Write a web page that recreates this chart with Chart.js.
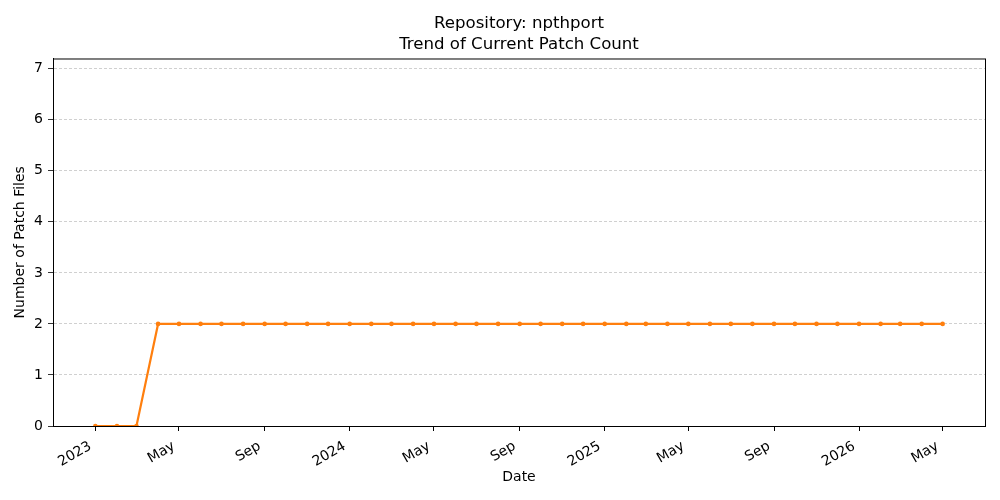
<!DOCTYPE html>
<html>
<head>
<meta charset="utf-8">
<script src="https://cdn.jsdelivr.net/npm/chart.js@4"></script>
<style>
  html, body { margin: 0; padding: 0; background: #fff; }
</style>
</head>
<body>
<canvas id="myChart" width="1000" height="500"></canvas>
<script>
// monthly snapshots
var dates = [
  "2023-01-01", "2023-02-01", "2023-03-01", "2023-04-01", "2023-05-01", "2023-06-01",
  "2023-07-01", "2023-08-01", "2023-09-01", "2023-10-01", "2023-11-01", "2023-12-01",
  "2024-01-01", "2024-02-01", "2024-03-01", "2024-04-01", "2024-05-01", "2024-06-01",
  "2024-07-01", "2024-08-01", "2024-09-01", "2024-10-01", "2024-11-01", "2024-12-01",
  "2025-01-01", "2025-02-01", "2025-03-01", "2025-04-01", "2025-05-01", "2025-06-01",
  "2025-07-01", "2025-08-01", "2025-09-01", "2025-10-01", "2025-11-01", "2025-12-01",
  "2026-01-01", "2026-02-01", "2026-03-01", "2026-04-01", "2026-05-01"
];
var patchCount = [
  0, 0, 0, 2, 2, 2, 2, 2, 2, 2, 2, 2,
  2, 2, 2, 2, 2, 2, 2, 2, 2, 2, 2, 2,
  2, 2, 2, 2, 2, 2, 2, 2, 2, 2, 2, 2,
  2, 2, 2, 2, 2
];
var xTickDates = [
  "2023-01-01", "2023-05-01", "2023-09-01",
  "2024-01-01", "2024-05-01", "2024-09-01",
  "2025-01-01", "2025-05-01", "2025-09-01",
  "2026-01-01", "2026-05-01"
];
var yTicks = [0, 1, 2, 3, 4, 5, 6, 7];
var monthNames = ["Jan","Feb","Mar","Apr","May","Jun","Jul","Aug","Sep","Oct","Nov","Dec"];

function ms(s) { return Date.parse(s + "T00:00:00Z"); }

var points = [];
for (var i = 0; i < dates.length; i++) {
  points.push({x: ms(dates[i]), y: patchCount[i]});
}
var first = ms(dates[0]);
var last = ms(dates[dates.length - 1]);
var pad = (last - first) * 0.05;

var font = "'DejaVu Sans', sans-serif";

var frame = {
  id: 'frame',
  afterDraw: function(chart) {
    var a = chart.chartArea;
    var ctx = chart.ctx;
    ctx.save();
    ctx.strokeStyle = '#000';
    ctx.lineWidth = 1;
    ctx.strokeRect(a.left + 0.5, a.top + 0.5, a.right - a.left, a.bottom - a.top);
    ctx.restore();
  }
};

var ctx = document.getElementById('myChart').getContext('2d');
var chart = new Chart(ctx, {
  type: 'line',
  data: {
    datasets: [{
      label: 'Patch Count',
      data: points,
      borderColor: '#ff7f0e',
      backgroundColor: '#ff7f0e',
      borderWidth: 2.2,
      pointRadius: 2.3,
      pointHoverRadius: 2.3,
      pointBorderWidth: 0,
      tension: 0
    }]
  },
  plugins: [frame],
  options: {
    responsive: false,
    animation: false,
    events: [],
    devicePixelRatio: 1,
    layout: { padding: { left: 0, right: 15, top: 0, bottom: 0 } },
    plugins: {
      legend: { display: false },
      tooltip: { enabled: false },
      title: {
        display: true,
        fullSize: false,
        text: ['Repository: npthport', 'Trend of Current Patch Count'],
        color: '#000',
        font: { family: font, size: 16.6, weight: 'normal', lineHeight: 1.28 },
        padding: { top: 13, bottom: 3 }
      }
    },
    scales: {
      x: {
        type: 'linear',
        min: first - pad,
        max: last + pad,
        afterBuildTicks: function(scale) {
          scale.ticks = xTickDates.map(function(d) { return {value: ms(d)}; });
        },
        afterFit: function(scale) { scale.height = 74; },
        ticks: {
          color: '#000',
          font: { family: font, size: 14 },
          minRotation: 30,
          maxRotation: 30,
          autoSkip: false,
          padding: 7,
          labelOffset: -5,
          callback: function(v) {
            var d = new Date(v);
            if (d.getUTCMonth() === 0) return String(d.getUTCFullYear());
            return monthNames[d.getUTCMonth()];
          }
        },
        grid: {
          drawOnChartArea: false,
          drawTicks: true,
          tickLength: 5,
          tickColor: '#000'
        },
        border: { display: true, color: '#000', width: 1 },
        title: {
          display: true,
          text: 'Date',
          color: '#000',
          font: { family: font, size: 14 },
          padding: { top: 0, bottom: 14 }
        }
      },
      y: {
        min: 0,
        max: 7.2,
        afterBuildTicks: function(scale) {
          scale.ticks = yTicks.map(function(v) { return {value: v}; });
        },
        afterFit: function(scale) { scale.width = 53; },
        ticks: {
          color: '#000',
          font: { family: font, size: 14 },
          padding: 5
        },
        grid: {
          color: '#c4c4c4',
          lineWidth: 0.8,
          tickLength: 5,
          tickColor: '#000',
          tickBorderDash: []
        },
        border: { display: true, color: '#000', width: 1, dash: [3, 2] },
        title: {
          display: true,
          text: 'Number of Patch Files',
          color: '#000',
          font: { family: font, size: 14 },
          padding: { top: 12, bottom: 4 }
        }
      }
    }
  }
});
</script>
</body>
</html>
